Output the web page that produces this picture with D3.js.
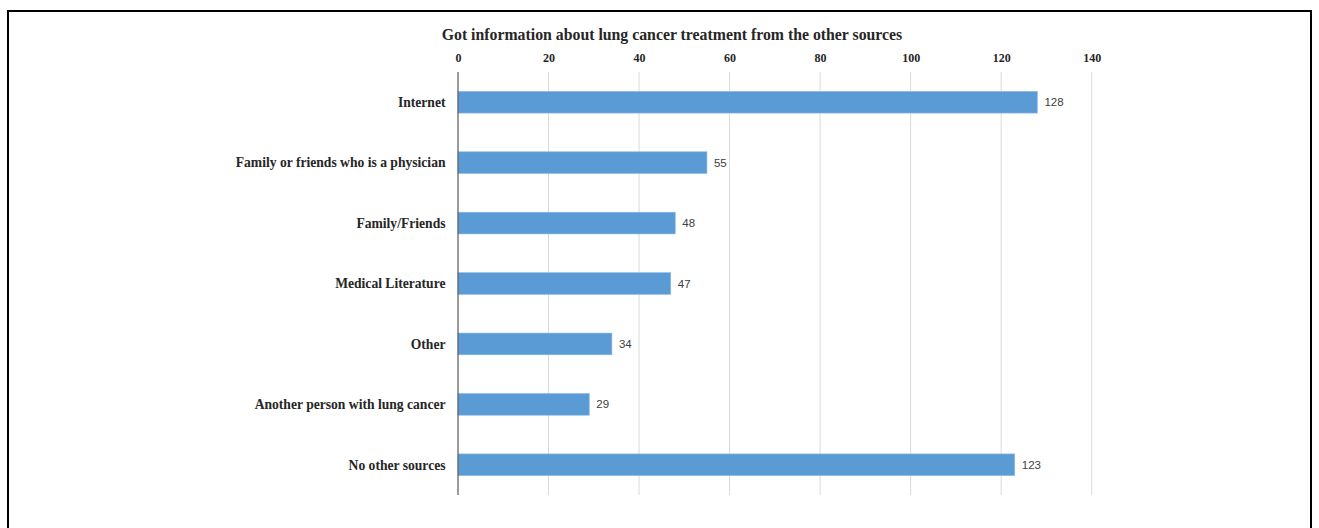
<!DOCTYPE html>
<html>
<head>
<meta charset="utf-8">
<script src="https://cdn.jsdelivr.net/npm/d3@7"></script>
<style>
html,body{margin:0;padding:0;background:#fff;}
svg{display:block;}
</style>
</head>
<body>
<svg id="chart" width="1319" height="528"></svg>
<script>
const categories = ["Internet","Family or friends who is a physician","Family/Friends","Medical Literature","Other","Another person with lung cancer","No other sources"];
const values = [128,55,48,47,34,29,123];
const tickValues = [0,20,40,60,80,100,120,140];
const title = "Got information about lung cancer treatment from the other sources";

(function(){
const svg = d3.select("#chart");
const serif = "'Liberation Serif','Times New Roman',serif";
const sans = "'Liberation Sans',Carlito,Arial,sans-serif";

// outer border
svg.append("rect").attr("x",8).attr("y",11).attr("width",1303).attr("height",540)
  .attr("fill","none").attr("stroke","#000").attr("stroke-width",2);

const pLeft = 458, pRight = 1091.7, pTop = 72, pBottom = 495;
const x = d3.scaleLinear().domain([0,140]).range([pLeft,pRight]);
const y = d3.scaleBand().domain(categories).range([pTop,pBottom]).padding(0);
const barH = y.bandwidth()*0.36;

// title
svg.append("text").attr("x",672).attr("y",39.5).attr("text-anchor","middle")
  .attr("font-family",serif).attr("font-weight","bold").attr("font-size",15.8)
  .attr("fill","#262626").text(title);

// gridlines
svg.append("g").selectAll("line").data(tickValues.filter(d=>d>0)).join("line")
  .attr("x1",d=>x(d)).attr("x2",d=>x(d)).attr("y1",pTop).attr("y2",pBottom)
  .attr("stroke","#d9d9d9").attr("stroke-width",1);

// top axis
const axis = d3.axisTop(x).tickValues(tickValues).tickSize(0).tickPadding(0);
const ag = svg.append("g").attr("transform",`translate(0,61.8)`).call(axis);
ag.select(".domain").remove();
ag.selectAll("text").attr("font-family",serif).attr("font-weight","bold")
  .attr("font-size",12).attr("fill","#262626");

// bars
svg.append("g").selectAll("rect").data(values).join("rect")
  .attr("x",x(0)).attr("y",(d,i)=>y(categories[i])+(y.bandwidth()-barH)/2)
  .attr("width",d=>x(d)-x(0)).attr("height",barH)
  .attr("fill","#5b9bd5").attr("stroke","#8fbce6").attr("stroke-width",0.6);

// vertical axis line
svg.append("line").attr("x1",pLeft).attr("x2",pLeft).attr("y1",pTop).attr("y2",pBottom)
  .attr("stroke","#595959").attr("stroke-width",1.2);

// category labels
svg.append("g").selectAll("text").data(categories).join("text")
  .attr("x",445.5).attr("y",d=>y(d)+y.bandwidth()/2).attr("dy","0.35em")
  .attr("text-anchor","end").attr("font-family",serif).attr("font-weight","bold")
  .attr("font-size",13.6).attr("fill","#262626").text(d=>d);

// value labels
svg.append("g").selectAll("text").data(values).join("text")
  .attr("x",d=>x(d)+7).attr("y",(d,i)=>y(categories[i])+y.bandwidth()/2).attr("dy","0.35em")
  .attr("font-family",sans).attr("font-size",11.5).attr("fill","#404040").text(d=>d);
})();
</script>
</body>
</html>
